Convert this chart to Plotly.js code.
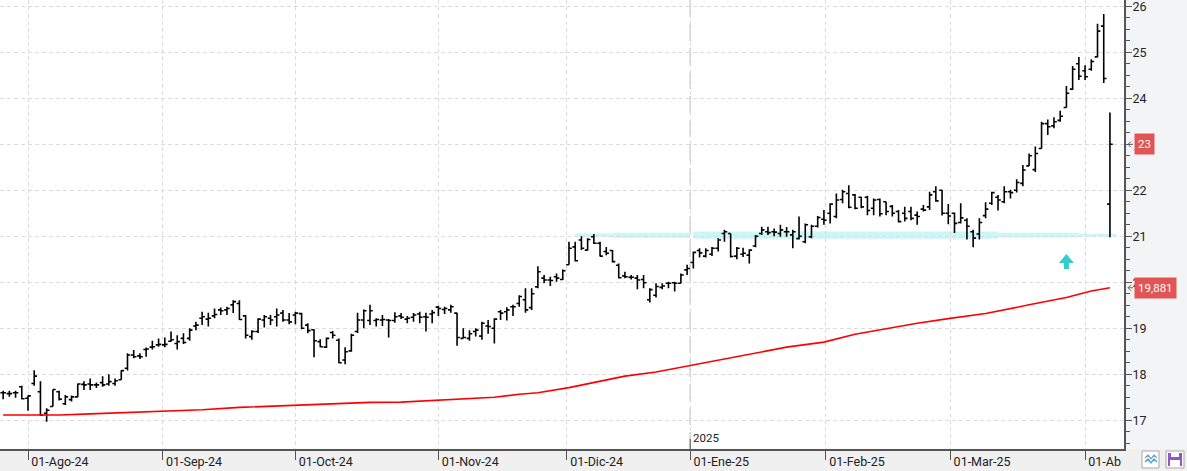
<!DOCTYPE html>
<html><head><meta charset="utf-8">
<script src="https://cdn.plot.ly/plotly-3.0.1.min.js"></script>
<style>html,body{margin:0;padding:0;background:#f2f3f5;overflow:hidden;} #chart{width:1187px;height:471px;}</style>
</head><body><div id="chart"></div>
<script>
// ---------- DATA ----------
const firstDay = '2024-07-26';
const lastDay = '2025-04-07';
const holidays = ['2024-12-25', '2024-12-26', '2025-01-01'];

const openVals = [
17.60,17.58,17.60,17.73,17.48,17.80,17.62,17.15,17.30,17.62,
17.36,17.45,17.51,17.78,17.79,17.77,17.82,17.79,17.80,17.88,
18.13,18.42,18.40,18.54,18.59,18.64,18.64,18.72,18.67,18.78,
18.78,19.05,19.22,19.20,19.27,19.40,19.40,19.51,19.54,19.27,
18.82,18.93,19.18,19.22,19.25,19.33,19.18,19.29,19.32,19.07,
18.97,18.71,18.59,18.91,18.74,18.31,18.51,18.93,19.18,19.17,
19.17,19.18,19.18,19.17,19.27,19.20,19.24,19.31,19.25,19.31,
19.46,19.41,19.40,19.33,18.78,18.78,18.93,18.83,19.05,19.00,
19.36,19.36,19.47,19.54,19.62,19.45,19.90,20.09,20.05,20.12,
20.06,20.38,20.77,20.92,20.70,20.99,20.85,20.67,20.69,20.37,
20.14,20.11,20.09,20.06,19.62,19.72,19.89,19.98,19.99,19.98,
20.27,20.43,20.69,20.57,20.61,20.74,21.06,21.06,20.57,20.61,
20.59,20.79,21.06,21.10,21.10,21.06,21.10,21.03,20.95,20.88,
20.99,21.22,21.37,21.50,21.43,21.80,21.93,21.90,21.85,21.85,
21.61,21.80,21.75,21.65,21.54,21.50,21.54,21.46,21.59,21.64,
21.97,22.00,21.50,21.50,21.30,21.35,21.10,21.05,21.45,21.72,
21.85,21.75,21.97,22.00,22.15,22.53,22.45,22.91,23.45,23.40,
23.52,23.80,24.20,24.75,24.60,24.63,24.90,25.57,21.70];

const highVals = [
17.64,17.64,17.64,17.75,17.54,18.09,17.85,17.26,17.67,17.64,
17.55,17.54,17.80,17.85,17.91,17.82,17.96,18.00,17.91,18.09,
18.46,18.53,18.46,18.58,18.73,18.78,18.80,18.93,18.85,18.89,
19.00,19.14,19.36,19.34,19.43,19.45,19.47,19.61,19.61,19.29,
18.96,19.22,19.29,19.29,19.43,19.40,19.33,19.36,19.34,19.11,
18.98,18.76,18.80,18.94,18.78,18.59,18.88,19.34,19.41,19.51,
19.22,19.29,19.20,19.35,19.33,19.27,19.33,19.36,19.34,19.40,
19.49,19.47,19.51,19.34,19.00,18.96,19.00,19.14,19.18,19.22,
19.40,19.46,19.51,19.72,19.87,19.87,20.35,20.16,20.12,20.19,
20.28,20.88,20.88,21.00,20.96,21.05,20.88,20.77,20.70,20.41,
20.23,20.16,20.16,20.16,19.87,19.98,19.98,20.01,20.01,20.19,
20.38,20.67,20.74,20.74,20.77,20.96,21.14,21.06,20.77,20.75,
20.72,21.03,21.21,21.21,21.17,21.25,21.20,21.14,21.43,21.28,
21.25,21.44,21.57,21.72,21.93,22.01,22.11,21.92,21.86,21.88,
21.82,21.82,21.75,21.68,21.57,21.64,21.64,21.54,21.68,21.97,
22.09,22.01,21.70,21.52,21.72,21.39,21.14,21.39,21.74,21.97,
21.90,22.09,22.01,22.24,22.55,22.80,22.95,23.49,23.54,23.59,
23.73,24.27,24.70,24.90,24.72,24.85,25.62,25.83,23.69];

const lowVals = [
17.46,17.51,17.49,17.46,17.21,17.75,17.10,16.97,17.30,17.43,
17.33,17.41,17.50,17.66,17.66,17.70,17.73,17.75,17.75,17.88,
18.08,18.35,18.33,18.38,18.54,18.60,18.59,18.71,18.54,18.66,
18.73,18.96,19.07,19.04,19.22,19.29,19.29,19.33,19.18,18.78,
18.75,18.90,19.02,19.07,19.04,19.14,19.09,19.09,18.98,18.89,
18.37,18.59,18.57,18.78,18.24,18.22,18.49,18.90,19.00,19.07,
19.04,19.05,18.80,19.12,19.20,19.11,19.14,19.11,18.93,19.11,
19.27,19.31,19.34,18.62,18.78,18.73,18.82,18.75,18.88,18.67,
19.18,19.17,19.27,19.47,19.34,19.40,19.87,19.98,19.92,20.01,
20.05,20.38,20.45,20.70,20.69,20.83,20.56,20.59,20.43,20.09,
20.09,20.06,19.85,19.87,19.56,19.67,19.85,19.87,19.80,19.98,
20.16,20.30,20.54,20.54,20.57,20.67,20.88,20.54,20.50,20.55,
20.41,20.76,21.03,21.03,21.00,20.99,20.99,20.74,20.93,20.85,
20.96,21.19,21.25,21.28,21.39,21.72,21.61,21.59,21.61,21.46,
21.46,21.43,21.46,21.43,21.30,21.32,21.35,21.25,21.54,21.57,
21.75,21.45,21.26,21.07,21.28,20.93,20.76,20.93,21.39,21.68,
21.56,21.72,21.82,21.95,22.09,22.53,22.40,22.91,23.20,23.35,
23.49,23.80,24.18,24.40,24.40,24.60,24.89,24.33,20.98];

const closeVals = [
17.60,17.58,17.60,17.47,17.53,17.96,17.11,17.22,17.67,17.46,
17.51,17.51,17.79,17.77,17.77,17.77,17.77,17.84,17.86,18.08,
18.42,18.38,18.38,18.55,18.60,18.65,18.65,18.75,18.71,18.69,
18.96,19.07,19.25,19.22,19.30,19.38,19.43,19.58,19.19,18.85,
18.93,19.20,19.25,19.18,19.29,19.18,19.14,19.33,19.00,18.95,
18.73,18.60,18.78,18.85,18.25,18.49,18.85,19.18,19.38,19.38,
19.19,19.19,19.17,19.25,19.24,19.22,19.29,19.24,19.24,19.34,
19.43,19.43,19.47,18.80,18.80,18.88,18.96,19.11,19.04,19.20,
19.33,19.40,19.47,19.69,19.40,19.75,20.23,20.05,20.04,20.09,
20.25,20.74,20.47,20.74,20.93,20.85,20.57,20.63,20.45,20.10,
20.12,20.11,20.05,19.99,19.84,19.91,19.92,19.98,19.98,20.16,
20.30,20.65,20.64,20.69,20.74,20.92,21.10,20.56,20.74,20.63,
20.70,21.00,21.14,21.08,21.09,21.14,21.10,21.10,21.00,21.25,
21.22,21.41,21.35,21.70,21.79,21.97,21.63,21.61,21.64,21.56,
21.79,21.49,21.54,21.50,21.32,21.39,21.39,21.43,21.57,21.90,
21.77,21.50,21.44,21.28,21.40,21.22,20.96,21.30,21.59,21.95,
21.79,21.97,21.95,22.17,22.44,22.75,22.80,23.45,23.38,23.49,
23.61,24.11,24.63,24.48,24.47,24.80,25.46,24.43,23.00];

// moving average (red line), read at selected dates
const maDates = ['2024-07-26','2024-08-08','2024-08-15','2024-08-22','2024-08-29','2024-09-04','2024-09-10',
 '2024-09-18','2024-09-24','2024-09-30','2024-10-04','2024-10-11','2024-10-17','2024-10-24','2024-10-31',
 '2024-11-08','2024-11-14','2024-11-20','2024-11-25','2024-12-02','2024-12-09','2024-12-13','2024-12-20',
 '2024-12-31','2025-01-09','2025-01-16','2025-01-23','2025-01-31','2025-02-07','2025-02-14','2025-02-21',
 '2025-02-28','2025-03-10','2025-03-19','2025-03-27','2025-04-02','2025-04-07'];
const maValues = [17.115,17.115,17.14,17.165,17.195,17.21,17.23,
 17.28,17.30,17.325,17.35,17.37,17.39,17.395,17.43,
 17.46,17.50,17.565,17.60,17.71,17.85,17.96,18.05,
 18.18,18.33,18.45,18.59,18.70,18.87,18.99,19.11,
 19.21,19.32,19.51,19.67,19.81,19.881];

const monthTickDates = ['2024-08-01','2024-09-01','2024-10-01','2024-11-01','2024-12-01','2025-01-01','2025-02-01','2025-03-01','2025-04-01'];
const monthTickLabels = ['01-Ago-24','01-Sep-24','01-Oct-24','01-Nov-24','01-Dic-24','01-Ene-25','01-Feb-25','01-Mar-25','01-Ab'];
const yearMarkDate = '2025-01-01';
const yearMarkLabel = '2025';

// price-axis ticks; the 23 label sits under the last-close box
const priceTicks = [17,18,19,20,21,22,23,24,25,26];
const priceTickLabels = ['17','18','19','20','21','22','','24','25','26'];

const supportLevel = 21.025;
const bandStarts = ['2024-12-03','2024-12-11','2025-01-02','2025-03-12','2025-03-31'];
const bandEnds   = ['2024-12-11','2025-01-01','2025-03-12','2025-03-31','2025-04-08'];
const bandHalfWidths = [0.037,0.054,0.08,0.05,0.03];

const signalDate = '2025-03-27';
const signalValue = 20.45;

const lastCloseLabel = '23';
const lastCloseValue = 23.0;
const maLastLabel = '19,881';
const maLastValue = 19.881;

// ---------- HELPERS ----------
const DAY = 86400000;
function parseD(s){const p=s.split('-').map(Number);return Date.UTC(p[0],p[1]-1,p[2]);}
const tradingDays = [];
for(let t=parseD(firstDay); t<=parseD(lastDay); t+=DAY){
  const dt=new Date(t); const wd=dt.getUTCDay(); const s=dt.toISOString().slice(0,10);
  if(wd===0||wd===6||holidays.includes(s)) continue;
  tradingDays.push(s);
}
const tdTimes = tradingDays.map(parseD);
function dateToX(s){
  const t=parseD(s), n=tdTimes.length;
  if(t<=tdTimes[0]) return (t-tdTimes[0])/DAY;
  if(t>=tdTimes[n-1]) return n-1+(t-tdTimes[n-1])/DAY;
  let i=0; while(tdTimes[i+1]<=t) i++;
  if(tdTimes[i]===t) return i;
  return i+(t-tdTimes[i])/(tdTimes[i+1]-tdTimes[i]);
}
const xIdx = tradingDays.map(dateToX);

// pixel -> paper helpers for decorations
const PW = 1124, PH = 449;
const px = x => x/PW, py = y => (PH-y)/PH;

// ---------- TRACES ----------
const maTrace = {
  type:'scatter', mode:'lines', x: maDates.map(dateToX), y: maValues,
  line:{color:'#ff0000', width:1.6}, hoverinfo:'skip'
};
const ohlcTrace = {
  type:'ohlc', x:xIdx, open:openVals, high:highVals, low:lowVals, close:closeVals,
  text: tradingDays, hoverinfo:'text+y',
  increasing:{line:{color:'#000000', width:1.6}},
  decreasing:{line:{color:'#000000', width:1.6}},
  tickwidth:0.45
};

// ---------- SHAPES ----------
const shapes = [];
shapes.push({type:'rect', xref:'paper', yref:'paper', x0:0, x1:px(1187), y0:py(471), y1:0,
  fillcolor:'#f0f0f0', line:{width:0}, layer:'below'});
bandStarts.forEach((s,k)=>{
  shapes.push({type:'rect', xref:'x', yref:'y', x0:dateToX(s), x1:dateToX(bandEnds[k]),
    y0:supportLevel-bandHalfWidths[k], y1:supportLevel+bandHalfWidths[k],
    fillcolor:'#c8f8f9', line:{width:0}, layer:'below'});
});
const yx = dateToX(yearMarkDate);
shapes.push({type:'line', xref:'x', yref:'paper', x0:yx, x1:yx, y0:0, y1:1,
  line:{color:'#cccccc', width:1.5, dash:'17px,7px'}, layer:'below'});
shapes.push({type:'line', xref:'x', yref:'paper', x0:yx, x1:yx, y0:0, y1:10/PH,
  line:{color:'#555555', width:1}});
shapes.push({type:'path', xref:'x', yref:'y', xsizemode:'pixel', ysizemode:'pixel',
  xanchor:dateToX(signalDate), yanchor:signalValue,
  path:'M0,7.5L7.5,-1.5L2.5,-1.5L2.5,-7.5L-2.5,-7.5L-2.5,-1.5L-7.5,-1.5Z',
  fillcolor:'#33cccc', line:{width:0}});
// small "<-" pointers next to the value boxes on the price axis
[lastCloseValue, maLastValue].forEach(v=>{
  shapes.push({type:'path', xref:'paper', yref:'y', xsizemode:'pixel', ysizemode:'pixel',
    xanchor:1, yanchor:v, path:'M7,3L4,0L7,-3M4,0L9,0',
    line:{color:'#666666', width:1}});
});
// icons bottom-right
function rectPx(x0,y0,x1,y1,fill,lc){return {type:'rect',xref:'paper',yref:'paper',x0:px(x0),x1:px(x1),y0:py(y1),y1:py(y0),fillcolor:fill,line:{color:lc||fill,width:lc?1:0}};}
shapes.push(rectPx(1142,451,1159,468,'#ffffff','#a8a8a8'));
function pathPx(pts){return 'M'+pts.map(p=>px(p[0])+','+py(p[1])).join('L');}
shapes.push({type:'path',xref:'paper',yref:'paper',path:pathPx([[1145,458],[1148,455],[1151,459],[1154,455],[1157,458]]),line:{color:'#8a9fb5',width:1.3}});
shapes.push({type:'path',xref:'paper',yref:'paper',path:pathPx([[1145,462],[1148,459],[1151,463],[1154,459],[1157,462]]),line:{color:'#4a9fe0',width:1.3}});
shapes.push(rectPx(1166,451,1184,468,'#ffffff','#a8a8a8'));
shapes.push(rectPx(1168,453,1182,466,'#9256c9'));
shapes.push(rectPx(1171,453,1179,457,'#ffffff'));
shapes.push(rectPx(1170,460,1180,466,'#ffffff'));

// ---------- ANNOTATIONS ----------
const annotations = [
  {xref:'x', yref:'paper', x:yx, y:0, xanchor:'left', yanchor:'bottom', xshift:1, yshift:2,
   text:yearMarkLabel, showarrow:false, font:{family:'Roboto', size:11.5, color:'#222'}},
  {xref:'paper', yref:'y', x:1, y:lastCloseValue, xanchor:'left', yanchor:'middle', xshift:10,
   text:lastCloseLabel, showarrow:false, bgcolor:'#e25555', borderpad:3,
   font:{family:'Roboto', size:11.5, color:'#ffffff'}},
  {xref:'paper', yref:'y', x:1, y:maLastValue, xanchor:'left', yanchor:'middle', xshift:10,
   text:maLastLabel, showarrow:false, bgcolor:'#e25555', borderpad:3,
   font:{family:'Roboto', size:11.5, color:'#ffffff'}}
];

// ---------- LAYOUT ----------
const layout = {
  width:1187, height:471,
  margin:{l:0, r:63, t:0, b:22, pad:0},
  paper_bgcolor:'#f3f4f6', plot_bgcolor:'#ffffff',
  showlegend:false,
  font:{family:'Roboto', size:11, color:'#222'},
  xaxis:{
    range:[-0.503, 180.26], tickmode:'array',
    tickvals: monthTickDates.map(dateToX), ticktext: monthTickLabels,
    ticks:'outside', ticklen:9, tickcolor:'#555', tickwidth:1,
    ticklabelposition:'outside right', ticklabelstandoff:0, ticklabelshift:2,
    showgrid:true, gridcolor:'#dcdcdc', griddash:'4px,3px', gridwidth:1,
    showline:true, linecolor:'#555', linewidth:1.5, zeroline:false,
    rangeslider:{visible:false}, fixedrange:true,
    tickfont:{family:'Roboto', size:12.5, color:'#222'}
  },
  yaxis:{
    side:'right', range:[16.376, 26.137], tickmode:'array',
    tickvals: priceTicks, ticktext: priceTickLabels,
    ticks:'outside', ticklen:6, tickcolor:'#555', tickwidth:1,
    ticklabeloverflow:'allow', ticklabelstandoff:-2,
    showgrid:true, gridcolor:'#dcdcdc', griddash:'4px,3px', gridwidth:1,
    showline:true, linecolor:'#555', linewidth:2, zeroline:false, fixedrange:true,
    minor:{dtick:0.25, tick0:0, ticks:'outside', ticklen:4, tickcolor:'#555', showgrid:false},
    tickfont:{family:'Roboto', size:12.5, color:'#222'}
  },
  shapes: shapes,
  annotations: annotations
};

Plotly.newPlot('chart', [maTrace, ohlcTrace], layout, {displayModeBar:false, staticPlot:true});
</script>
</body></html>
